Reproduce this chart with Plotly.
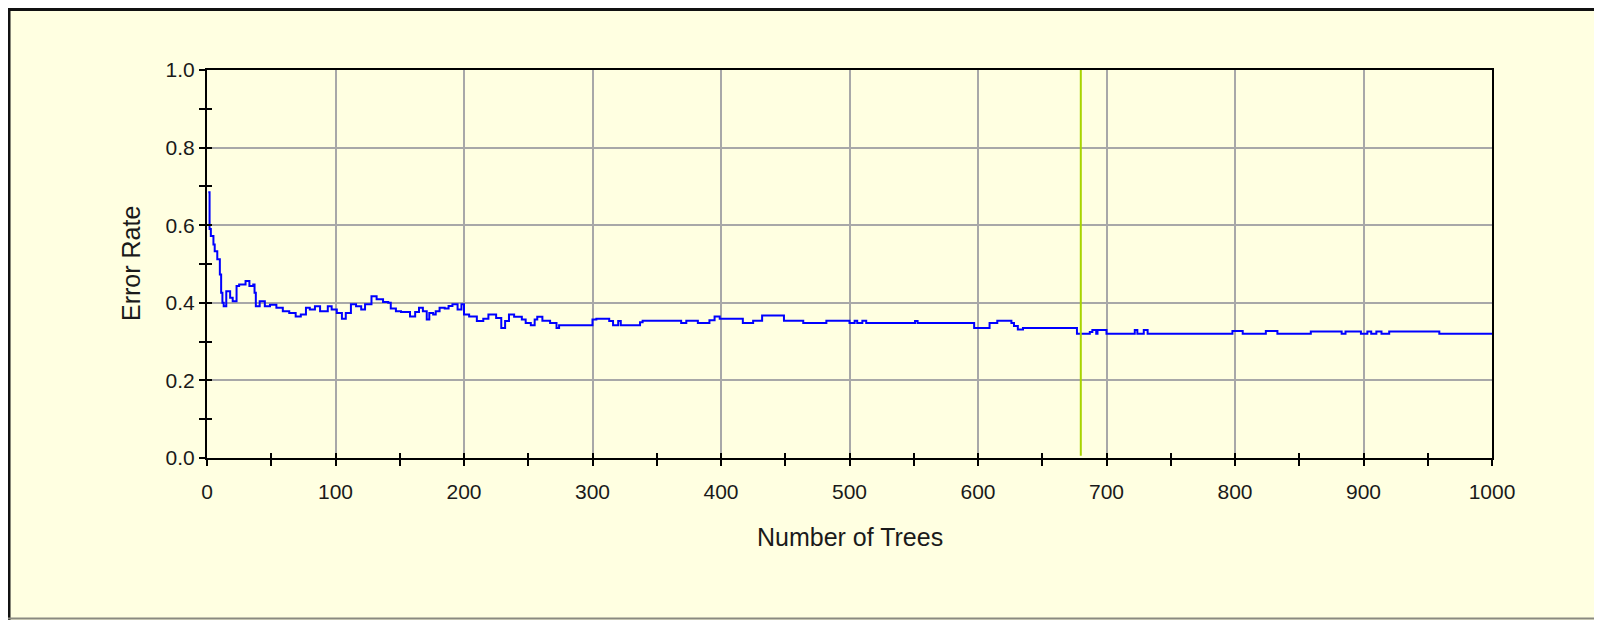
import plotly.graph_objects as go

# ---- data ----
trees = [1, 2, 3, 5, 6, 8, 10, 11, 12, 13, 15, 18, 20, 23, 25, 30, 33, 36, 37, 38,
         41, 45, 49, 54, 59, 64, 69, 73, 77, 80, 84, 88, 94, 97, 101, 105, 108, 112,
         116, 120, 123, 128, 132, 137, 141, 143, 147, 151, 158, 162, 165, 168, 171,
         173, 176, 178, 181, 185, 188, 191, 195, 198, 200, 204, 210, 215, 219, 225,
         229, 232, 235, 239, 245, 248, 252, 255, 257, 261, 267, 272, 274, 300, 303,
         313, 316, 320, 322, 337, 339, 369, 373, 382, 391, 395, 399, 417, 425, 432,
         449, 464, 482, 500, 504, 506, 510, 513, 551, 553, 597, 609, 615, 626, 628,
         631, 635, 677, 687, 689, 692, 693, 700, 722, 724, 729, 732, 798, 806, 824,
         833, 859, 883, 886, 898, 903, 906, 910, 914, 920, 959, 1000]
error_rate = [0.685, 0.59, 0.572, 0.55, 0.533, 0.512, 0.473, 0.426, 0.40, 0.391,
              0.43, 0.413, 0.404, 0.443, 0.447, 0.456, 0.443, 0.447, 0.426, 0.391,
              0.404, 0.391, 0.395, 0.387, 0.378, 0.374, 0.365, 0.37, 0.387, 0.383,
              0.391, 0.378, 0.391, 0.383, 0.374, 0.359, 0.374, 0.396, 0.391, 0.383,
              0.396, 0.417, 0.409, 0.402, 0.40, 0.385, 0.378, 0.376, 0.365, 0.376,
              0.387, 0.378, 0.357, 0.374, 0.37, 0.378, 0.387, 0.385, 0.392, 0.396,
              0.383, 0.396, 0.37, 0.365, 0.353, 0.359, 0.37, 0.361, 0.335, 0.353,
              0.37, 0.364, 0.357, 0.348, 0.342, 0.357, 0.364, 0.354, 0.348, 0.335,
              0.342, 0.357, 0.359, 0.353, 0.342, 0.353, 0.342, 0.35, 0.354, 0.348,
              0.354, 0.348, 0.355, 0.365, 0.359, 0.348, 0.354, 0.367, 0.354, 0.348,
              0.354, 0.348, 0.354, 0.348, 0.354, 0.348, 0.353, 0.348, 0.335, 0.348,
              0.354, 0.348, 0.34, 0.331, 0.335, 0.32, 0.325, 0.33, 0.32, 0.33, 0.32,
              0.33, 0.32, 0.33, 0.32, 0.327, 0.32, 0.327, 0.32, 0.326, 0.32, 0.326,
              0.32, 0.326, 0.32, 0.326, 0.32, 0.326, 0.32, 0.32]
best_trees = 680
x_ticks = list(range(0, 1001, 100))
y_ticks = [0.0, 0.2, 0.4, 0.6, 0.8, 1.0]

# ---- layout geometry (page pixels; the page body has an 8px margin) ----
OFF = 8
W, H = 1602 - OFF, 620 - OFF
L, R, T, B = 207 - OFF, 1492 - OFF, 70 - OFF, 458 - OFF
pw, ph = R - L, B - T

def px_x(p):
    return (p - OFF - L) / pw

def px_y(p):
    return (B - (p - OFF)) / ph

BG = "#FFFFE1"
FONT = "Liberation Sans, Arial, sans-serif"

fig = go.Figure()
fig.add_trace(go.Scatter(x=trees, y=error_rate, mode="lines",
                         line=dict(color="#0000FF", width=2, shape="hv"),
                         showlegend=False, hoverinfo="x+y"))
fig.add_trace(go.Scatter(x=[None], y=[None], xaxis="x2", yaxis="y2",
                         showlegend=False, hoverinfo="skip"))

axis_common = dict(showline=True, linecolor="black", linewidth=2, zeroline=False)

fig.update_layout(
    width=W, height=H,
    margin=dict(l=L, r=W - R, t=T, b=H - B, pad=0),
    paper_bgcolor=BG, plot_bgcolor=BG,
    font=dict(family=FONT, size=21, color="#1a1a1a"),
    xaxis=dict(range=[0, 1000], tickvals=x_ticks, ticks="outside", ticklen=6,
               tickwidth=2, tickcolor="black", mirror=True,
               showgrid=True, gridcolor="#A8A8A8", gridwidth=2,
               minor=dict(dtick=50, ticks="outside", ticklen=6, tickwidth=2,
                          tickcolor="black", showgrid=False),
               ticklabelstandoff=8, **axis_common),
    yaxis=dict(range=[0, 1], tickvals=y_ticks, tickformat=".1f", ticks="outside",
               ticklen=6, tickwidth=2, tickcolor="black", mirror=True,
               showgrid=True, gridcolor="#A8A8A8", gridwidth=2,
               minor=dict(dtick=0.1, ticks="outside", ticklen=6, tickwidth=2,
                          tickcolor="black", showgrid=False),
               ticklabelstandoff=0, **axis_common),
    xaxis2=dict(range=[0, 1000], overlaying="x", dtick=50, ticks="inside",
                ticklen=5, tickwidth=2, tickcolor="black", showticklabels=False,
                showgrid=False, zeroline=False, showline=False),
    yaxis2=dict(range=[0, 1], overlaying="y", dtick=0.1, ticks="inside",
                ticklen=5, tickwidth=2, tickcolor="black", showticklabels=False,
                showgrid=False, zeroline=False, showline=False),
)

# best-number-of-trees marker
fig.add_shape(type="line", xref="x", yref="y", x0=best_trees, x1=best_trees,
              y0=0.006, y1=1.025, line=dict(color="#A8D400", width=2))

# outer frame (top, left black; bottom gray)
fig.add_shape(type="line", xref="paper", yref="paper", x0=px_x(8), x1=px_x(1610),
              y0=px_y(9.5), y1=px_y(9.5), line=dict(color="#111111", width=3))
fig.add_shape(type="line", xref="paper", yref="paper", x0=px_x(9), x1=px_x(9),
              y0=px_y(9), y1=px_y(625), line=dict(color="#111111", width=3))
fig.add_shape(type="line", xref="paper", yref="paper", x0=px_x(8), x1=px_x(1610),
              y0=px_y(618.5), y1=px_y(618.5), line=dict(color="#8A8A80", width=2))

# axis titles
fig.add_annotation(text="Number of Trees", xref="paper", yref="paper",
                   x=0.5, y=px_y(537), showarrow=False, xanchor="center",
                   yanchor="middle", font=dict(family=FONT, size=25))
fig.add_annotation(text="Error Rate", xref="paper", yref="paper",
                   x=px_x(131), y=0.5, showarrow=False, textangle=-90,
                   xanchor="center", yanchor="middle", font=dict(family=FONT, size=25))

fig.write_html("out.html")
